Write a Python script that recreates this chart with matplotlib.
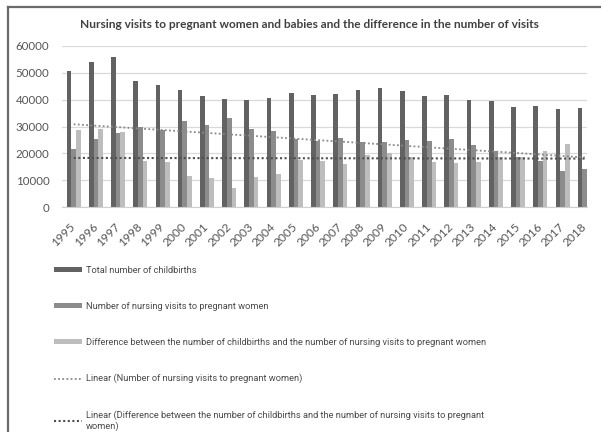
import numpy as np
import matplotlib
matplotlib.use("Agg")
import matplotlib.pyplot as plt
from matplotlib.lines import Line2D

years = ["1995", "1996", "1997", "1998", "1999", "2000", "2001", "2002",
         "2003", "2004", "2005", "2006", "2007", "2008", "2009", "2010",
         "2011", "2012", "2013", "2014", "2015", "2016", "2017", "2018"]

births = [50500, 54200, 55800, 47100, 45300, 43600, 41300, 40300,
          39900, 40500, 42600, 41600, 42100, 43600, 44500, 43300,
          41300, 41900, 40000, 39500, 37400, 37700, 36600, 37000]

visits = [21700, 25300, 27700, 29900, 28700, 31900, 30400, 33200,
          28900, 28200, 25200, 24500, 25900, 24100, 24300, 24800,
          24500, 25400, 23200, 20800, 18700, 17000, 13300, 14100]

difference = [28800, 28900, 28100, 17200, 16600, 11700, 10900, 7100,
              11000, 12300, 17400, 17100, 16200, 19500, 20200, 18500,
              16800, 16500, 16800, 18700, 18700, 20700, 23300, 22900]

labels = ["Total number of childbirths",
          "Number of nursing visits to pregnant women",
          "Difference between the number of childbirths and the number of nursing visits to pregnant women",
          "Linear (Number of nursing visits to pregnant women)",
          "Linear (Difference between the number of childbirths and the number of nursing visits to pregnant\nwomen)"]

title = "Nursing visits to pregnant women and babies and the difference in the number of visits"

plt.rcParams['font.family'] = ['Lato', 'DejaVu Sans']
textColor = '#555555'

fig = plt.figure(figsize=(6.01, 4.32), dpi=100)
ax = fig.add_axes([62/601, 1 - 207/432, 525/601, 161/432])

x = np.arange(len(years))
w = 0.21
b1 = ax.bar(x - w, births, w, color='#626262', label=labels[0], zorder=2)
b2 = ax.bar(x, visits, w, color='#8c8c8c', label=labels[1], zorder=2)
b3 = ax.bar(x + w, difference, w, color='#bdbdbd', label=labels[2], zorder=2)

# linear trend lines (least squares, like Excel)
k, c = np.polyfit(x, visits, 1)
t1, = ax.plot(x, k*x + c, color='#8a8a8a', lw=1.3, ls=(0, (1, 1.3)),
              label=labels[3], zorder=3)
k, c = np.polyfit(x, difference, 1)
t2, = ax.plot(x, k*x + c, color='#4f4f4f', lw=1.5, ls=(0, (1, 1.2)),
              label=labels[4], zorder=3)

ax.set_xlim(-0.527, 23.1)
ax.set_ylim(0, 60000)
ax.set_yticks(range(0, 60001, 10000))
ax.set_yticklabels([str(v) for v in range(0, 60001, 10000)])
ax.grid(axis='y', color='#d9d9d9', lw=0.9, zorder=0)
ax.set_axisbelow(True)
for sp in ['top', 'right', 'left']:
    ax.spines[sp].set_visible(False)
ax.spines['bottom'].set_color('#d0d0d0')
ax.tick_params(axis='both', length=0, colors=textColor, labelsize=8.3)
ax.tick_params(axis='y', pad=9)
ax.set_xticks(x)
ax.set_xticklabels(years, rotation=45, ha='right', va='center',
                   rotation_mode='anchor')
ax.tick_params(axis='x', pad=13, labelsize=8.6)

fig.text(0.515, 1 - 24/432, title, ha='center', va='center',
         fontsize=8.6, fontweight='bold', color='#404040')

leg = fig.legend(handles=[b1, b2, b3, t1, t2], labels=labels,
                 loc='upper left', bbox_to_anchor=(54/601, 1 - 266/432),
                 frameon=False, labelcolor='#4a4a4a',
                 prop={'family': ['Roboto', 'Lato'], 'size': 6.65},
                 handlelength=3.0, handleheight=0.43, handletextpad=0.43,
                 labelspacing=2.92, borderpad=0, borderaxespad=0)

# outer frame (left and top)
fig.add_artist(Line2D([8/601, 8/601], [0, 1 - 7/432], color='#6a6a6a', lw=1.6))
fig.add_artist(Line2D([8/601, 1], [1 - 7/432, 1 - 7/432], color='#6a6a6a', lw=1.6))

fig.savefig('out.png', dpi=100)
